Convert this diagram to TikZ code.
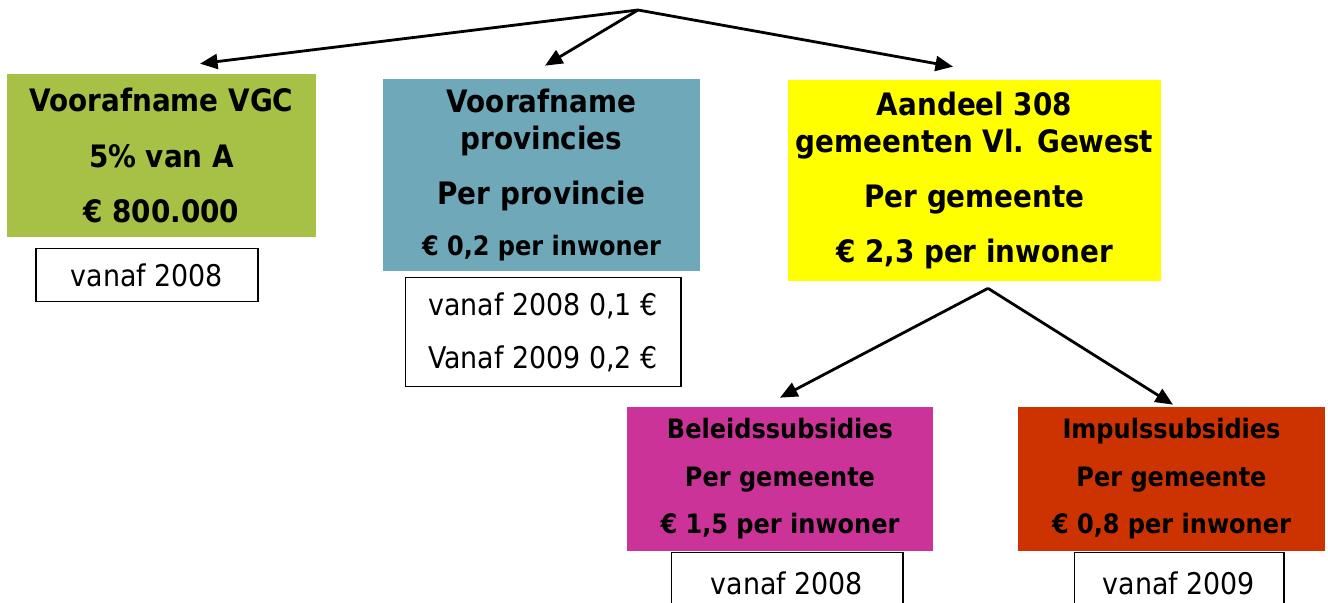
\documentclass[tikz,border=0pt]{standalone}
\usepackage{fontspec}
\setmainfont{DejaVu Sans Condensed}
\usepackage{tikz}
\usetikzlibrary{arrows.meta, positioning, calc}
\definecolor{vgcgreen}{HTML}{A6C145}
\definecolor{provteal}{HTML}{6FA9B9}
\definecolor{gemyellow}{HTML}{FFFF00}
\definecolor{belmagenta}{HTML}{CC3399}
\definecolor{impred}{HTML}{CC3300}
\newcommand{\fontBig}{\fontsize{17.6}{21}\selectfont\bfseries}
\newcommand{\fontSmall}{\fontsize{15.2}{21}\selectfont\bfseries}
\newcommand{\fontNote}{\fontsize{17}{21}\selectfont}
\tikzset{
    block_green/.style={rectangle, fill=vgcgreen, align=center, font=\fontBig, minimum width=6.18cm, minimum height=3.26cm, inner sep=0pt},
    block_teal/.style={rectangle, fill=provteal, align=center, font=\fontBig, minimum width=6.34cm, minimum height=3.84cm, inner sep=0pt},
    block_yellow/.style={rectangle, fill=gemyellow, align=center, font=\fontBig, minimum width=7.46cm, minimum height=4.02cm, inner sep=0pt},
    block_magenta/.style={rectangle, fill=belmagenta, align=center, font=\fontSmall, minimum width=6.12cm, minimum height=2.88cm, inner sep=0pt},
    block_red/.style={rectangle, fill=impred, align=center, font=\fontSmall, minimum width=6.14cm, minimum height=2.88cm, inner sep=0pt},
    note_box/.style={rectangle, draw, line width=0.6pt, align=center, font=\fontNote, inner sep=0pt},
    arrow/.style={-{Triangle[length=10pt,width=8.5pt]}, line width=1.6pt}
}
\begin{document}
\begin{tikzpicture}[x=0.02cm, y=-0.02cm]
    \useasboundingbox (0,0) rectangle (1328,602);

    % Main blocks
    \node (vgc) [block_green] at (161.5,155.5) {Voorafname VGC\\[10.5pt] 5\% van A\\[10.5pt] € 800.000};
    \node (prov) [block_teal] at (541.5,175) {Voorafname\\ provincies\\[10.5pt] Per provincie\\[8pt] {\fontSmall € 0,2 per inwoner}};
    \node (gem) [block_yellow] at (974.5,180.5) {Aandeel 308\\ gemeenten Vl. Gewest\\[10.5pt] Per gemeente\\[10.5pt] € 2,3 per inwoner};
    \node (bel) [block_magenta] at (780,479) {Beleidssubsidies\\[6pt] Per gemeente\\[6pt] € 1,5 per inwoner};
    \node (imp) [block_red] at (1171.5,479) {Impulssubsidies\\[6pt] Per gemeente\\[6pt] € 0,8 per inwoner};

    % Start dates
    \node (vgcnote) [note_box, below=0.22cm of vgc, xshift=-0.29cm, minimum width=4.44cm, minimum height=1.06cm] {vanaf 2008};
    \node (provnote) [note_box, below=0.12cm of prov, xshift=0.03cm, minimum width=5.52cm, minimum height=2.18cm] {vanaf 2008 0,1 €\\[9.6pt] Vanaf 2009 0,2 €};
    \node (belnote) [note_box, below=0.02cm of bel, xshift=0.14cm, minimum width=4.64cm, minimum height=1.2cm] {vanaf 2008};
    \node (impnote) [note_box, below=0.02cm of imp, xshift=0.15cm, minimum width=4.2cm, minimum height=1.2cm] {vanaf 2009};

    % Arrows
    \coordinate (top) at (638,10);
    \coordinate (split) at ($(gem.south)+(13.5,7)$);
    \draw [arrow] (top) -- ($(vgc.north)+(38.5,-10)$);
    \draw [arrow] (top) -- ($(prov.north)+(3.5,-13)$);
    \draw [arrow] (top) -- ($(gem.north)+(-21.5,-13)$);
    \draw [arrow] (split) -- ($(bel.north)+(0,-9)$);
    \draw [arrow] (split) -- ($(imp.north)+(1.5,-2)$);
\end{tikzpicture}
\end{document}
